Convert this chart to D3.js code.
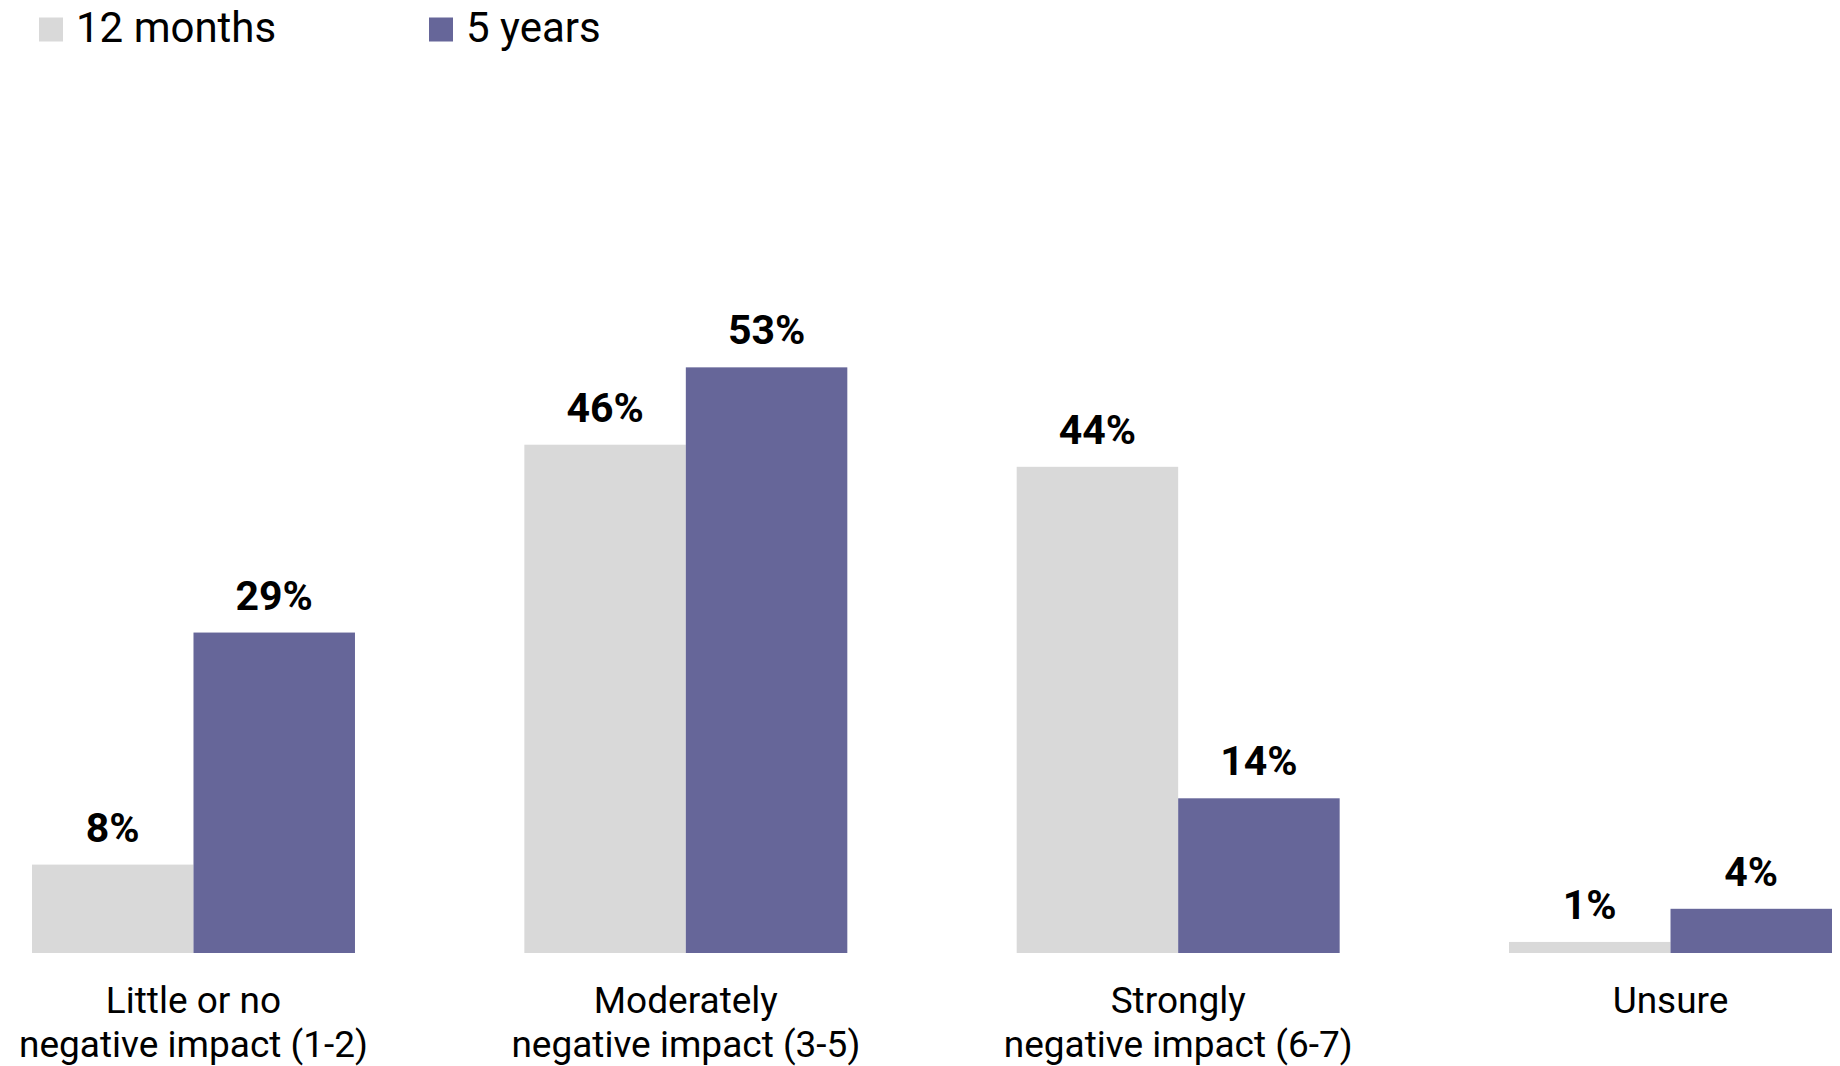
<!DOCTYPE html>
<html>
<head>
<meta charset="utf-8">
<script src="https://cdn.jsdelivr.net/npm/d3@7"></script>
<style>
  html, body { margin: 0; padding: 0; background: #fff; }
  svg { display: block; font-family: Roboto, "Noto Sans", sans-serif; }
</style>
</head>
<body>
<svg id="chart" width="1840" height="1066"></svg>
<script>
// Impact categories (two-line labels) and the share for each horizon
const categories = [
  ["Little or no", "negative impact (1-2)"],
  ["Moderately", "negative impact (3-5)"],
  ["Strongly", "negative impact (6-7)"],
  ["Unsure"]
];
const seriesNames = ["12 months", "5 years"];
const months12 = [8, 46, 44, 1];
const years5 = [29, 53, 14, 4];
const seriesColors = ["#d9d9d9", "#666699"];

const svg = d3.select("#chart");
const keys = categories.map(c => c.join(" "));
const values = [months12, years5];

const x0 = d3.scaleBand()
  .domain(keys)
  .range([32, 1832])
  .paddingInner(0.344)
  .paddingOuter(0);

const x1 = d3.scaleBand()
  .domain(seriesNames)
  .range([0, x0.bandwidth()])
  .padding(0);

const y = d3.scaleLinear()
  .domain([0, 60])
  .range([953, 953 - 60 * 11.05]);

const color = d3.scaleOrdinal().domain(seriesNames).range(seriesColors);

// Bars and value labels
seriesNames.forEach((s, si) => {
  const g = svg.append("g");
  g.selectAll("rect")
    .data(keys)
    .join("rect")
    .attr("x", k => x0(k) + x1(s))
    .attr("y", (k, i) => y(values[si][i]))
    .attr("width", x1.bandwidth())
    .attr("height", (k, i) => y(0) - y(values[si][i]))
    .attr("fill", color(s));

  g.selectAll("text")
    .data(keys)
    .join("text")
    .attr("x", k => x0(k) + x1(s) + x1.bandwidth() / 2)
    .attr("y", (k, i) => y(values[si][i]) - 23)
    .attr("text-anchor", "middle")
    .attr("font-size", 41)
    .attr("font-weight", 700)
    .attr("fill", "#000")
    .text((k, i) => values[si][i] + "%");
});

// Category axis (labels only, no line or ticks)
const xAxis = d3.axisBottom(x0).tickSize(0).tickFormat("");
svg.append("g")
  .attr("transform", `translate(0,${y(0)})`)
  .call(xAxis)
  .call(g => g.select(".domain").remove());

const catG = svg.append("g");
categories.forEach((lines, i) => {
  const cx = x0(keys[i]) + x0.bandwidth() / 2;
  const t = catG.append("text")
    .attr("x", cx)
    .attr("y", 1013)
    .attr("text-anchor", "middle")
    .attr("font-size", 37)
    .attr("fill", "#000");
  lines.forEach((line, li) => {
    t.append("tspan")
      .attr("x", cx)
      .attr("dy", li === 0 ? 0 : 44)
      .text(line);
  });
});

// Legend
const legendX = [39, 429];
const legend = svg.append("g");
seriesNames.forEach((s, i) => {
  legend.append("rect")
    .attr("x", legendX[i])
    .attr("y", 17.5)
    .attr("width", 24)
    .attr("height", 24)
    .attr("fill", color(s));
  legend.append("text")
    .attr("x", legendX[i] + 37)
    .attr("y", 42)
    .attr("font-size", 42)
    .attr("fill", "#000")
    .text(s);
});
</script>
</body>
</html>
